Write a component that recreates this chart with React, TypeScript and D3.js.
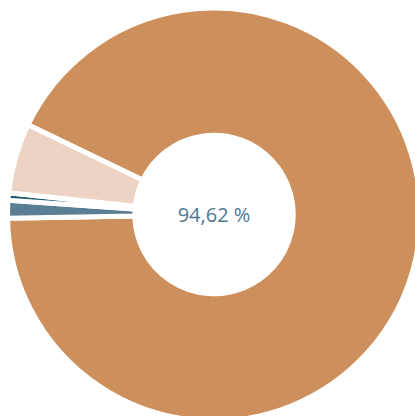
import React from "react";
import * as d3 from "d3";

const categories = ["Main", "Slate", "Thin", "Pink"];
const values = [92.56, 1.39, 0.58, 5.47];
const colors = ["#CD8F5B", "#5A7F95", "#1D5A6A", "#EDD3C4"];
const centerLabel = "94,62 %";

const W = 415;
const H = 416;
const cx = 214;
const cy = 214.5;
const rOuter = 206.5;
const rInner = 79.2;
const startDeg = -64.25;

export default function App() {
  const pie = d3
    .pie<number>()
    .sort(null)
    .value((d) => d)
    .startAngle((startDeg * Math.PI) / 180)
    .endAngle((startDeg * Math.PI) / 180 + 2 * Math.PI);
  const arcs = pie(values);
  const arc = d3.arc<d3.PieArcDatum<number>>().innerRadius(rInner).outerRadius(rOuter);
  return (
    <svg
      width={W}
      height={H}
      style={{ position: "absolute", left: 0, top: 0, display: "block" }}
    >
      <g transform={`translate(${cx},${cy})`}>
        {arcs.map((a, i) => (
          <path
            key={categories[i]}
            d={arc(a) || ""}
            fill={colors[i]}
            stroke="#fff"
            strokeWidth={5}
            strokeLinejoin="miter"
          />
        ))}
        <text
          x={0}
          y={7.2}
          textAnchor="middle"
          fontFamily="'Open Sans', sans-serif"
          fontSize={20}
          fill="#4E7892"
        >
          {centerLabel}
        </text>
      </g>
    </svg>
  );
}
